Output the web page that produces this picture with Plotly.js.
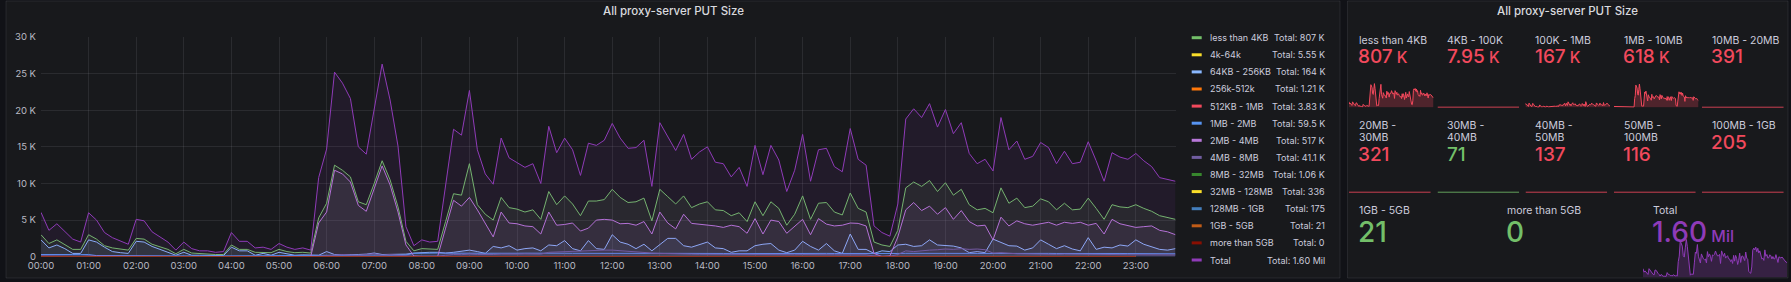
<!DOCTYPE html>
<html><head><meta charset="utf-8">
<script src="https://cdn.plot.ly/plotly-3.0.1.min.js"></script>
<style>html,body{margin:0;padding:0;background:#111217;overflow:hidden}#chart{width:1791px;height:282px}</style>
</head><body><div id="chart"></div>
<script>
// ---------- DATA (values in thousands for 10-minute series) ----------
const total = [6.05,3.6,4.5,3.4,2.4,2.0, 6.0,5.0,3.3,2.6,2.1,1.7, 5.1,4.9,3.4,2.7,2.0,0.9, 2.0,1.1,0.8,0.8,0.6,0.7, 3.3,2.1,2.1,1.2,1.3,1.0, 1.8,1.3,1.0,1.2,0.9,10.8, 14.7,25.2,23.7,21.6,15.0,14.0, 20.4,26.3,21.4,15.1,4.1,1.5, 2.3,2.0,2.1,10.0,17.4,16.6, 22.7,14.6,11.3,9.9,16.2,13.5, 12.8,12.2,12.7,10.0,17.8,14.2, 16.2,14.6,11.1,15.5,15.2,15.9, 18.2,16.2,14.8,14.9,15.9,9.6, 18.3,16.4,14.5,16.7,13.3,14.3, 15.0,12.9,12.7,10.9,12.2,9.6, 15.2,11.2,15.2,13.2,8.9,11.8, 16.7,10.3,14.6,14.8,12.3,11.6, 17.5,13.3,12.5,4.2,3.3,2.8, 7.2,18.8,20.2,19.0,20.9,17.7, 20.1,16.8,18.3,14.1,12.7,13.3, 11.7,19.0,14.6,15.8,13.3,13.7, 15.6,14.9,12.7,14.4,12.7,12.9, 15.7,13.1,10.3,14.2,13.6,13.3, 14.1,13.1,12.3,10.8,10.5,10.3];
const lt4k = [3.0,1.8,2.3,1.7,1.0,1.0, 3.0,2.4,1.5,1.2,1.0,0.9, 2.5,2.4,1.7,1.4,1.0,0.4, 1.0,0.5,0.4,0.4,0.3,0.3, 1.6,1.0,1.0,0.6,0.6,0.55, 1.0,0.7,0.55,0.6,0.5,5.3, 7.3,12.5,11.8,10.9,7.5,7.1, 10.0,13.1,10.5,6.8,2.1,0.8, 1.1,1.0,1.0,4.8,8.6,8.4, 12.7,7.1,5.8,5.0,8.1,6.7, 6.5,6.1,6.4,5.1,8.9,7.1, 8.3,7.2,5.6,7.6,7.6,7.8, 9.2,8.1,7.4,7.5,8.0,4.9, 9.2,8.2,7.2,8.3,6.7,7.2, 7.5,6.4,6.3,5.6,6.0,4.8, 7.5,5.6,7.5,6.6,4.3,5.8, 8.3,5.1,7.3,7.4,6.1,5.7, 8.7,6.6,6.1,2.0,1.6,1.4, 3.6,9.4,10.2,9.6,10.4,8.9, 10.1,8.4,9.2,7.1,6.4,6.6, 6.0,9.4,7.3,8.0,6.7,6.9, 7.9,7.5,6.4,7.3,6.4,6.5, 8.0,6.6,5.1,7.1,6.8,6.7, 7.1,6.6,6.2,5.6,5.3,5.1];
const mb2_4 = [0.08,0.06,0.07,0.05,0.04,0.04, 0.08,0.07,0.05,0.04,0.04,0.03, 0.07,0.06,0.05,0.04,0.03,0.02, 0.04,0.03,0.02,0.02,0.02,0.02, 0.05,0.04,0.04,0.03,0.03,0.02, 0.04,0.03,0.02,0.03,0.02,4.6, 6.1,11.8,11.3,10.2,7.0,6.2, 9.3,12.4,9.8,6.1,1.6,0.1, 0.05,0.05,0.05,3.9,7.7,6.9, 8.1,6.4,4.6,2.7,6.1,4.6, 4.5,4.2,4.1,3.1,6.1,4.3, 4.4,4.6,3.5,3.9,5.0,5.1, 5.0,4.5,4.55,4.3,4.8,3.1, 6.1,4.6,3.8,5.8,4.55,4.45, 4.3,4.2,4.0,4.3,4.1,3.2, 5.2,3.1,5.0,4.8,3.2,4.1, 5.1,3.0,5.2,4.45,4.2,4.3, 4.6,4.55,4.2,0.45,0.02,0.1, 2.7,6.4,7.4,6.3,6.9,5.8, 6.7,5.1,6.3,4.8,4.2,4.3, 2.3,5.4,4.2,4.9,4.5,4.3, 4.5,4.7,4.3,4.7,4.55,4.7, 4.3,4.55,3.1,5.1,4.5,4.3, 4.0,4.1,4.2,3.6,3.4,3.0];
const k64_256 = [2.3,1.2,1.6,1.1,0.45,0.45, 2.3,2.0,1.3,0.7,0.55,0.45, 2.1,2.0,1.4,1.0,0.6,0.2, 0.6,0.2,0.2,0.2,0.15,0.15, 1.3,0.8,0.8,0.2,0.45,0.2, 0.6,0.35,0.2,0.25,0.2,0.2, 0.7,0.3,0.3,0.25,0.3,0.35, 0.5,0.3,0.3,0.3,0.35,0.5, 0.6,0.6,0.6,0.5,0.6,0.75, 0.9,0.7,0.45,1.4,1.2,1.5, 0.9,1.1,1.2,0.8,1.6,1.5, 2.2,1.1,0.8,2.2,1.1,1.0, 3.0,2.0,1.7,1.1,1.7,0.8, 1.6,2.5,2.5,1.5,1.3,1.7, 2.0,1.2,1.1,0.6,0.8,0.8, 1.5,1.7,1.8,0.9,0.55,0.9, 2.1,1.4,0.9,1.8,0.8,0.45, 3.1,1.0,1.0,0.45,0.8,0.7, 1.6,1.7,1.4,1.5,2.3,1.6, 1.5,1.45,1.2,0.55,0.7,0.55, 2.4,2.0,1.5,1.45,0.9,1.2, 2.3,1.7,1.1,1.5,1.05,0.8, 2.6,1.0,1.3,1.2,1.6,1.45, 2.3,1.7,1.3,1.0,0.9,1.1];
const mb1_2 = [0.30,0.32,0.30,0.31,0.30,0.29, 0.30,0.15,0.14,0.16,0.15,0.13, 0.14,0.16,0.15,0.14,0.13,0.12, 0.11,0.12,0.11,0.10,0.10,0.11, 0.12,0.14,0.13,0.12,0.12,0.11, 0.12,0.13,0.12,0.12,0.13,0.14, 0.20,0.22,0.21,0.20,0.19,0.20, 0.22,0.23,0.21,0.20,0.25,0.45, 0.50,0.50,0.50,0.48,0.47,0.49, 0.50,0.48,0.47,0.50,0.49,0.48, 0.47,0.48,0.46,0.45,0.47,0.48, 0.47,0.46,0.45,0.47,0.48,0.47, 0.46,0.47,0.46,0.45,0.44,0.45, 0.46,0.47,0.46,0.45,0.44,0.45, 0.44,0.43,0.44,0.42,0.43,0.42, 0.44,0.43,0.44,0.43,0.42,0.43, 0.44,0.43,0.44,0.45,0.44,0.43, 0.45,0.44,0.43,0.42,0.40,0.41, 0.44,0.46,0.47,0.46,0.48,0.47, 0.48,0.47,0.46,0.45,0.44,0.45, 0.44,0.45,0.46,0.45,0.44,0.45, 0.46,0.45,0.44,0.45,0.44,0.43, 0.44,0.43,0.42,0.43,0.44,0.43, 0.44,0.43,0.42,0.41,0.40,0.40];
const mb4_8 = [0.05,0.04,0.05,0.04,0.03,0.03, 0.05,0.05,0.04,0.03,0.03,0.03, 0.05,0.04,0.04,0.03,0.03,0.02, 0.03,0.02,0.02,0.02,0.02,0.02, 0.04,0.03,0.03,0.02,0.02,0.02, 0.03,0.02,0.02,0.02,0.02,0.05, 0.15,0.25,0.30,0.25,0.20,0.30, 0.40,0.20,0.30,0.20,0.10,0.05, 0.08,0.08,0.08,0.20,0.30,0.28, 0.35,0.30,0.25,0.30,0.35,0.40, 0.35,0.38,0.40,0.35,0.60,0.65, 0.70,0.75,0.70,0.80,0.85,0.90, 0.90,0.80,0.70,0.65,0.60,0.50, 0.45,0.40,0.38,0.35,0.35,0.33, 0.32,0.30,0.30,0.28,0.30,0.28, 0.30,0.28,0.30,0.29,0.27,0.28, 0.30,0.27,0.28,0.29,0.27,0.26, 0.28,0.27,0.26,0.10,0.05,0.05, 0.30,0.80,0.70,0.75,0.90,0.95, 1.05,1.00,1.10,1.00,1.05,0.95, 0.50,0.55,0.45,0.40,0.38,0.35, 0.35,0.33,0.32,0.35,0.33,0.30, 0.32,0.30,0.28,0.30,0.29,0.28, 0.27,0.28,0.26,0.25,0.24,0.24];
// hourly series (raw counts per 10-minute sample, one value per hour)
const k4_64   = [20,15,18,10,12,8, 60,70,25,50,45,40, 42,45,40,38,42,30, 55,48,45,42,40,35];
const k256_512= [3,2,2,1,2,1, 12,14,4,10,9,8, 9,10,9,8,9,6, 12,11,10,9,9,8];
const k512_1m = [10,8,8,5,6,4, 40,45,12,30,28,25, 28,30,28,26,28,20, 38,35,32,30,28,26];
const mb8_32  = [2,1,1,1,1,1, 10,12,3,8,8,7, 8,9,8,7,8,6, 12,10,9,8,8,7];
const mb32_128= [1,0,0,0,0,0, 3,4,1,3,3,2, 3,3,3,2,3,2, 4,3,3,3,3,2];
const mb128_1g= [0,0,0,0,0,0, 2,2,1,2,1,1, 2,2,1,1,2,1, 2,2,1,1,1,1];
const gb1_5   = [0,0,0,0,0,0, 0,1,0,0,0,0, 1,0,0,0,0,0, 1,0,0,0,1,0];
const gb5p    = [0,0,0,0,0,0, 0,0,0,0,0,0, 0,0,0,0,0,0, 0,0,0,0,0,0];
// hourly counts for stat-only buckets
const s10_20  = [0,0,0,0,0,0, 4,5,1,3,3,3, 3,3,3,3,3,2, 4,4,3,3,3,3];
const s20_30  = [0,0,0,0,0,0, 3,4,1,3,3,2, 3,3,2,3,2,2, 3,3,3,2,2,2];
const s30_40  = [0,0,0,0,0,0, 1,1,0,1,0,1, 1,0,1,0,1,0, 1,1,0,1,0,1];
const s40_50  = [0,0,0,0,0,0, 2,2,0,1,1,1, 1,1,1,1,1,1, 2,1,1,1,1,1];
const s50_100 = [0,0,0,0,0,0, 1,2,0,1,1,1, 1,1,1,1,1,1, 2,1,1,1,1,1];
const s100_1g = [0,0,0,0,0,0, 2,3,1,2,2,1, 2,2,1,2,1,1, 2,2,2,1,1,1];

const legendNames  = ['less than 4KB','4k-64k','64KB - 256KB','256k-512k','512KB - 1MB','1MB - 2MB','2MB - 4MB','4MB - 8MB','8MB - 32MB','32MB - 128MB','128MB - 1GB','1GB - 5GB','more than 5GB','Total'];
const legendTotals = ['807 K','5.55 K','164 K','1.21 K','3.83 K','59.5 K','517 K','41.1 K','1.06 K','336','175','21','0','1.60 Mil'];
const seriesColors = ['#73BF69','#FADE2A','#8AB8FF','#FF780A','#F2495C','#5794F2','#B877D9','#705DA0','#37872D','#FADE2A','#447EBC','#C15C17','#890F02','#8F3BB8'];
const yTickVals = [0,5000,10000,15000,20000,25000,30000];
const yTickText = ['0','5 K','10 K','15 K','20 K','25 K','30 K'];

const statLabels = ['less than 4KB','4KB - 100K','100K - 1MB','1MB - 10MB','10MB - 20MB','20MB - 30MB','30MB - 40MB','40MB - 50MB','50MB - 100MB','100MB - 1GB','1GB - 5GB','more than 5GB','Total'];
const statWrap   = [0,0,0,0,0,1,1,1,1,0,0,0,0];
const statValues = ['807','7.95','167','618','391','321','71','137','116','205','21','0','1.60'];
const statUnits  = ['K','K','K','K','','','','','','','','','Mil'];
const statColors = ['#F2495C','#F2495C','#F2495C','#F2495C','#F2495C','#F2495C','#73BF69','#F2495C','#F2495C','#F2495C','#73BF69','#73BF69','#8F3BB8'];

// ---------- BUILD ----------
const W = 1791, H = 282;
const X = p => p / W, Y = p => 1 - p / H;
const pad = n => String(n).padStart(2, '0');
const times = [];
for (let h = 0; h < 24; h++) for (let m = 0; m < 60; m += 10) times.push('2024-01-01 ' + pad(h) + ':' + pad(m));
const hours = [];
for (let h = 0; h < 24; h++) hours.push('2024-01-01 ' + pad(h) + ':00');
const K = a => a.map(v => v * 1000);

const seriesData = [
  {x: times, y: K(lt4k)}, {x: hours, y: k4_64}, {x: times, y: K(k64_256)}, {x: hours, y: k256_512},
  {x: hours, y: k512_1m}, {x: times, y: K(mb1_2)}, {x: times, y: K(mb2_4)}, {x: times, y: K(mb4_8)},
  {x: hours, y: mb8_32}, {x: hours, y: mb32_128}, {x: hours, y: mb128_1g}, {x: hours, y: gb1_5},
  {x: hours, y: gb5p}, {x: times, y: K(total)}
];
function rgba(hex, a) {
  const n = parseInt(hex.slice(1), 16);
  return `rgba(${n >> 16},${(n >> 8) & 255},${n & 255},${a})`;
}
const traces = seriesData.map((s, i) => ({
  type: 'scatter', mode: 'lines', x: s.x, y: s.y, name: legendNames[i],
  line: {color: seriesColors[i], width: 1}, fill: 'tozeroy', fillcolor: rgba(seriesColors[i], 0.09),
  hoverinfo: 'skip', xaxis: 'x', yaxis: 'y'
}));

const FONT = 'Inter, "Noto Sans", sans-serif';
const TXT = '#ccccdc';
const PANEL = '#18191c';
const shapes = [
  {type: 'rect', xref: 'paper', yref: 'paper', x0: X(6), x1: X(1340), y0: Y(278), y1: Y(1), fillcolor: PANEL, line: {color: 'rgba(204,204,220,0.10)', width: 1}, layer: 'below'},
  {type: 'rect', xref: 'paper', yref: 'paper', x0: X(1347.5), x1: X(1788), y0: Y(278), y1: Y(1), fillcolor: PANEL, line: {color: 'rgba(204,204,220,0.10)', width: 1}, layer: 'below'}
];
const annotations = [
  {text: 'All proxy-server PUT Size', x: X(673), y: Y(11.5), xref: 'paper', yref: 'paper', xanchor: 'center', yanchor: 'middle', showarrow: false, font: {family: FONT, size: 11.5, color: '#d8d9de', weight: 500}},
  {text: 'All proxy-server PUT Size', x: X(1567.5), y: Y(11.5), xref: 'paper', yref: 'paper', xanchor: 'center', yanchor: 'middle', showarrow: false, font: {family: FONT, size: 11.5, color: '#d8d9de', weight: 500}}
];
// legend
legendNames.forEach((n, i) => {
  const yc = 37.7 + i * 17.1;
  shapes.push({type: 'rect', xref: 'paper', yref: 'paper', x0: X(1191.7), x1: X(1201.7), y0: Y(yc + 1.5), y1: Y(yc - 1.5), fillcolor: seriesColors[i], line: {width: 0}});
  annotations.push({text: n, x: X(1208), y: Y(yc), xref: 'paper', yref: 'paper', xanchor: 'left', yanchor: 'middle', showarrow: false, font: {family: FONT, size: 9, color: TXT}});
  annotations.push({text: 'Total: ' + legendTotals[i], x: X(1327), y: Y(yc), xref: 'paper', yref: 'paper', xanchor: 'right', yanchor: 'middle', showarrow: false, font: {family: FONT, size: 9, color: TXT}});
});

const layout = {
  width: W, height: H, margin: {l: 0, r: 0, t: 0, b: 0}, autosize: false,
  paper_bgcolor: '#111217', plot_bgcolor: 'rgba(0,0,0,0)', showlegend: false,
  font: {family: FONT, color: TXT},
  xaxis: {domain: [X(41), X(1175.5)], type: 'date', range: [times[0], times[times.length - 1]], tickformat: '%H:%M', dtick: 3600000, tick0: times[0],
          showgrid: true, gridcolor: 'rgba(204,204,220,0.10)', gridwidth: 1, zeroline: false, showline: false, ticks: '', ticklabelstandoff: 2,
          tickfont: {family: FONT, size: 9.5, color: '#b9bac3'}, fixedrange: true},
  yaxis: {domain: [Y(256.7), Y(37)], range: [0, 30000], tickvals: yTickVals, ticktext: yTickText,
          showgrid: true, gridcolor: 'rgba(204,204,220,0.10)', gridwidth: 1, zeroline: false, showline: false, ticks: '', ticklabelstandoff: 4,
          tickfont: {family: FONT, size: 9.5, color: '#b9bac3'}, fixedrange: true},
  shapes: shapes, annotations: annotations
};

// stat tiles
const sum3 = lt4k.map((_, i) => mb1_2[i] + mb2_4[i] + mb4_8[i]);
const statSpark = [
  {x: times, y: K(lt4k)}, {x: hours, y: k4_64}, {x: times, y: K(k64_256)}, {x: times, y: K(sum3)}, {x: hours, y: s10_20},
  {x: hours, y: s20_30}, {x: hours, y: s30_40}, {x: hours, y: s40_50}, {x: hours, y: s50_100}, {x: hours, y: s100_1g},
  null, null, {x: times, y: K(total)}
];
const colX = [1349, 1437.5, 1525.5, 1614, 1702];
const tileW = 84.5;
const col3X = [1349, 1497, 1643];
let axN = 2;
statLabels.forEach((lab, i) => {
  let x0, w, lines, valY, bottom, big;
  if (i < 10) {
    const r = Math.floor(i / 5), c = i % 5;
    x0 = colX[c]; w = tileW; big = false;
    if (r === 0) { lines = [[lab, 40.5]]; valY = 56.5; bottom = 107.8; }
    else if (statWrap[i]) { const p = lab.split(' - '); lines = [[p[0] + ' -', 125.7], [p[1], 137.7]]; valY = 154.2; bottom = 192.8; }
    else { lines = [[lab, 125.7]]; valY = 142.5; bottom = 192.8; }
  } else {
    const c = i - 10; x0 = col3X[c]; w = 144; bottom = 277.8; valY = 232.2; big = true;
    lines = [[lab, 210.3]];
  }
  lines.forEach(([t, yy]) => annotations.push({text: t, x: X(x0 + 7.7), y: Y(yy), xref: 'paper', yref: 'paper', xanchor: 'left', yanchor: 'middle', showarrow: false, font: {family: FONT, size: 10.5, color: TXT}}));
  const ns = big ? 28 : 19, us = big ? 16 : 15.5;
  const txt = statValues[i] + (statUnits[i] ? '<span style="font-size:' + us + 'px"> ' + statUnits[i] + '</span>' : '');
  annotations.push({text: txt, x: X(x0 + 7.3), y: Y(valY), xref: 'paper', yref: 'paper', xanchor: 'left', yanchor: 'middle', showarrow: false, font: {family: FONT, size: ns, color: statColors[i], weight: 500}});
  const sp = statSpark[i];
  if (sp) {
    const hgt = big ? 38.5 : 48;
    const xa = 'xaxis' + axN, ya = 'yaxis' + axN;
    layout[xa] = {domain: [X(x0), X(x0 + w)], type: 'date', range: [times[0], times[times.length - 1]], visible: false, fixedrange: true, anchor: 'y' + axN};
    layout[ya] = {domain: [Y(bottom), Y(bottom - hgt)], range: [-300, 26300], visible: false, fixedrange: true, anchor: 'x' + axN};
    traces.push({type: 'scatter', mode: 'lines', x: sp.x, y: sp.y, xaxis: 'x' + axN, yaxis: 'y' + axN,
      line: {color: statColors[i], width: 1}, fill: 'tozeroy', fillcolor: rgba(statColors[i], 0.25), hoverinfo: 'skip'});
    axN++;
  }
});

Plotly.newPlot('chart', traces, layout, {staticPlot: true, displayModeBar: false});
</script></body></html>
